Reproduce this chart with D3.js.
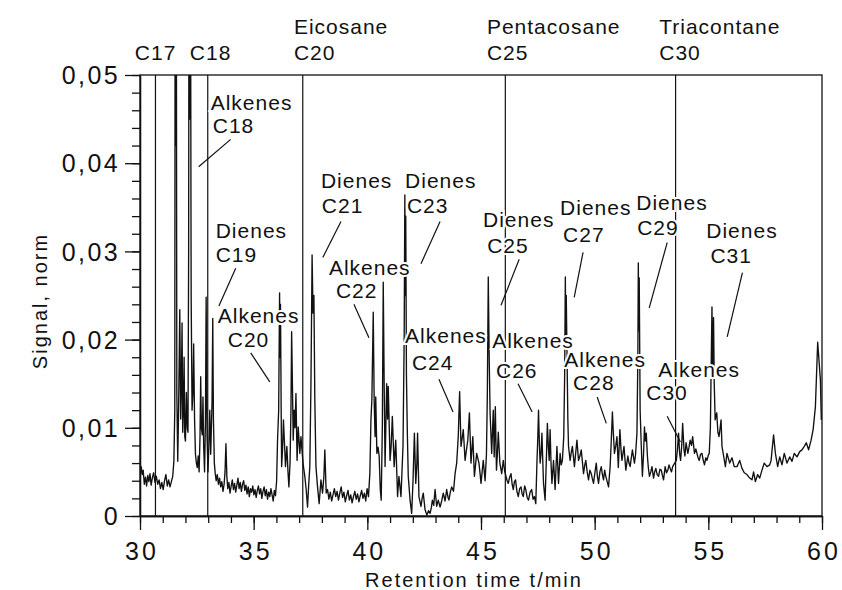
<!DOCTYPE html>
<html>
<head>
<meta charset="utf-8">
<script src="https://cdnjs.cloudflare.com/ajax/libs/d3/7.8.5/d3.min.js"></script>
<style>
	body { margin: 0; background: #fff; }
	svg { display: block; }
	text { font-family: "Liberation Sans", Arial, Helvetica, sans-serif; fill: #111; }
</style>
</head>
<body>
<div id="chart"></div>
<script>
// chromatogram trace, [retention time (min), normalised signal]
var trace = [
	[30.00, .0043], [30.05, .0056], [30.10, .0047], [30.14, .0052], [30.19, .0036], [30.24, .0044],
	[30.29, .0034], [30.34, .0046], [30.39, .0039], [30.44, .0048], [30.49, .0035], [30.55, .0044],
	[30.60, .0049], [30.66, .0038], [30.72, .0045], [30.78, .0036], [30.84, .0041], [30.90, .0031],
	[30.96, .0038], [31.02, .0030], [31.08, .0040], [31.14, .0047], [31.20, .0034], [31.26, .0041],
	[31.32, .0033], [31.38, .0039], [31.44, .0045], [31.49, .0062], [31.53, .0120], [31.55, .0800],
	[31.57, .0420], [31.59, .0800], [31.62, .0140], [31.66, .0062], [31.70, .0125], [31.75, .0234],
	[31.79, .0110], [31.82, .0150], [31.85, .0219], [31.88, .0095], [31.91, .0120], [31.94, .0180],
	[31.97, .0090], [32.00, .0085], [32.04, .0140], [32.08, .0100], [32.11, .0095], [32.14, .0300],
	[32.16, .0800], [32.19, .0450], [32.21, .0800], [32.25, .0250], [32.29, .0120], [32.33, .0140],
	[32.36, .0195], [32.40, .0110], [32.44, .0070], [32.48, .0060], [32.52, .0055], [32.56, .0068],
	[32.60, .0050], [32.64, .0090], [32.67, .0158], [32.70, .0100], [32.74, .0092], [32.77, .0135],
	[32.80, .0080], [32.84, .0050], [32.88, .0110], [32.91, .0248], [32.95, .0090], [32.99, .0050],
	[33.03, .0080], [33.07, .0120], [33.11, .0070], [33.17, .0130], [33.20, .0224], [33.23, .0110],
	[33.27, .0060], [33.31, .0048], [33.35, .0040], [33.40, .0047], [33.45, .0036], [33.50, .0043],
	[33.55, .0033], [33.60, .0039], [33.65, .0028], [33.70, .0036], [33.74, .0050], [33.78, .0082],
	[33.82, .0045], [33.86, .0031], [33.91, .0038], [33.96, .0026], [34.01, .0034], [34.06, .0041],
	[34.11, .0030], [34.16, .0037], [34.21, .0027], [34.26, .0035], [34.31, .0043], [34.36, .0031],
	[34.41, .0038], [34.46, .0028], [34.51, .0036], [34.56, .0040], [34.61, .0029], [34.66, .0035],
	[34.71, .0025], [34.76, .0033], [34.81, .0022], [34.86, .0031], [34.91, .0027], [34.96, .0034],
	[35.01, .0024], [35.06, .0030], [35.11, .0021], [35.16, .0029], [35.21, .0034], [35.26, .0025],
	[35.31, .0031], [35.36, .0020], [35.41, .0028], [35.46, .0033], [35.51, .0023], [35.56, .0030],
	[35.61, .0019], [35.66, .0027], [35.71, .0022], [35.76, .0031], [35.81, .0024], [35.86, .0017],
	[35.91, .0029], [35.96, .0023], [36.01, .0040], [36.05, .0086], [36.10, .0120], [36.14, .0253],
	[36.16, .0180], [36.18, .0240], [36.21, .0120], [36.23, .0056], [36.27, .0075], [36.31, .0109],
	[36.36, .0080], [36.40, .0056], [36.46, .0079], [36.51, .0050], [36.55, .0033], [36.60, .0060],
	[36.64, .0120], [36.67, .0209], [36.71, .0140], [36.74, .0086], [36.78, .0120], [36.82, .0100],
	[36.86, .0139], [36.91, .0063], [36.96, .0101], [37.03, .0071], [37.08, .0090], [37.11, .0079],
	[37.18, .0058], [37.25, .0045], [37.31, .0030], [37.37, .0010], [37.42, .0035], [37.47, .0056],
	[37.52, .0150], [37.57, .0296], [37.61, .0230], [37.65, .0250], [37.69, .0132], [37.74, .0056],
	[37.81, .0033], [37.88, .0014], [37.96, .0041], [38.03, .0026], [38.09, .0045], [38.13, .0075],
	[38.19, .0026], [38.25, .0030], [38.31, .0019], [38.37, .0027], [38.43, .0017], [38.49, .0024],
	[38.55, .0031], [38.61, .0022], [38.67, .0028], [38.73, .0018], [38.79, .0026], [38.85, .0033],
	[38.91, .0021], [38.97, .0027], [39.03, .0016], [39.09, .0023], [39.15, .0029], [39.21, .0018],
	[39.27, .0024], [39.33, .0015], [39.39, .0022], [39.45, .0028], [39.51, .0019], [39.57, .0025],
	[39.63, .0016], [39.69, .0023], [39.75, .0029], [39.81, .0020], [39.87, .0026], [39.93, .0017],
	[39.99, .0031], [40.05, .0022], [40.11, .0048], [40.16, .0110], [40.20, .0132], [40.26, .0231],
	[40.30, .0132], [40.34, .0090], [40.37, .0135], [40.42, .0071], [40.47, .0078], [40.52, .0068],
	[40.57, .0030], [40.61, .0018], [40.66, .0100], [40.70, .0265], [40.74, .0150], [40.78, .0056],
	[40.85, .0150], [40.89, .0110], [40.92, .0147], [41.00, .0063], [41.05, .0080], [41.10, .0113],
	[41.18, .0056], [41.25, .0086], [41.33, .0022], [41.39, .0045], [41.48, .0022], [41.57, .0080],
	[41.62, .0200], [41.65, .0364], [41.67, .0250], [41.69, .0340], [41.72, .0160], [41.76, .0094],
	[41.80, .0045], [41.88, .0018], [41.95, .0003], [42.01, .0040], [42.07, .0094], [42.13, .0037],
	[42.18, .0060], [42.21, .0094], [42.27, .0022], [42.36, .0011], [42.41, .0020], [42.46, .0026],
	[42.54, .0007], [42.62, .0001], [42.69, .0006], [42.76, .0003], [42.82, .0010], [42.86, .0018],
	[42.92, .0012], [42.98, .0030], [43.05, .0011], [43.12, .0018], [43.20, .0010], [43.27, .0017],
	[43.34, .0026], [43.42, .0017], [43.49, .0030], [43.55, .0021], [43.59, .0018], [43.65, .0027],
	[43.71, .0033], [43.79, .0028], [43.86, .0048], [43.93, .0060], [44.00, .0090], [44.06, .0141],
	[44.12, .0079], [44.17, .0088], [44.22, .0098], [44.30, .0063], [44.36, .0075], [44.42, .0086],
	[44.49, .0117], [44.56, .0060], [44.64, .0090], [44.71, .0045], [44.76, .0058], [44.81, .0071],
	[44.91, .0060], [44.96, .0048], [45.00, .0037], [45.05, .0050], [45.10, .0063], [45.18, .0040],
	[45.24, .0070], [45.28, .0140], [45.32, .0271], [45.36, .0180], [45.40, .0117], [45.47, .0071],
	[45.54, .0120], [45.58, .0067], [45.63, .0124], [45.68, .0052], [45.72, .0070], [45.76, .0095],
	[45.83, .0060], [45.91, .0048], [45.98, .0063], [46.04, .0051], [46.10, .0045], [46.15, .0040],
	[46.20, .0037], [46.26, .0044], [46.32, .0048], [46.37, .0036], [46.42, .0030], [46.47, .0039],
	[46.52, .0041], [46.58, .0028], [46.64, .0022], [46.70, .0031], [46.76, .0033], [46.81, .0025],
	[46.86, .0022], [46.92, .0034], [46.97, .0030], [47.03, .0021], [47.09, .0018], [47.16, .0027],
	[47.23, .0030], [47.29, .0019], [47.35, .0022], [47.41, .0014], [47.46, .0060], [47.50, .0090],
	[47.53, .0120], [47.57, .0080], [47.60, .0060], [47.64, .0070], [47.68, .0094], [47.72, .0060],
	[47.75, .0037], [47.82, .0018], [47.87, .0060], [47.92, .0105], [47.96, .0080], [48.00, .0063],
	[48.04, .0098], [48.08, .0060], [48.12, .0037], [48.19, .0063], [48.26, .0030], [48.30, .0055],
	[48.34, .0079], [48.41, .0037], [48.48, .0071], [48.53, .0058], [48.58, .0063], [48.64, .0090],
	[48.68, .0160], [48.71, .0271], [48.73, .0200], [48.75, .0250], [48.78, .0190], [48.82, .0110],
	[48.85, .0079], [48.92, .0063], [48.97, .0072], [49.02, .0079], [49.11, .0056], [49.16, .0070],
	[49.22, .0086], [49.29, .0063], [49.35, .0068], [49.41, .0075], [49.51, .0048], [49.56, .0057],
	[49.61, .0063], [49.67, .0050], [49.73, .0041], [49.79, .0052], [49.85, .0048], [49.90, .0042],
	[49.95, .0037], [50.01, .0049], [50.07, .0060], [50.12, .0045], [50.17, .0037], [50.23, .0050],
	[50.29, .0056], [50.34, .0047], [50.39, .0041], [50.44, .0052], [50.49, .0045], [50.55, .0039],
	[50.61, .0033], [50.68, .0056], [50.73, .0085], [50.78, .0118], [50.82, .0095], [50.87, .0071],
	[50.93, .0080], [50.98, .0090], [51.04, .0055], [51.11, .0098], [51.16, .0075], [51.20, .0063],
	[51.29, .0079], [51.37, .0052], [51.46, .0068], [51.51, .0060], [51.56, .0056], [51.66, .0075],
	[51.75, .0060], [51.80, .0070], [51.86, .0094], [51.90, .0180], [51.92, .0287], [51.94, .0210],
	[51.96, .0270], [52.00, .0120], [52.05, .0080], [52.10, .0045], [52.15, .0070], [52.19, .0101],
	[52.23, .0085], [52.27, .0094], [52.32, .0068], [52.36, .0055], [52.41, .0045], [52.47, .0050],
	[52.52, .0056], [52.59, .0043], [52.64, .0050], [52.69, .0054], [52.75, .0047], [52.81, .0045],
	[52.87, .0053], [52.93, .0052], [52.98, .0046], [53.03, .0041], [53.10, .0056], [53.16, .0049],
	[53.22, .0052], [53.27, .0058], [53.32, .0054], [53.38, .0050], [53.43, .0056], [53.52, .0060],
	[53.59, .0063], [53.64, .0075], [53.69, .0094], [53.74, .0070], [53.78, .0063], [53.83, .0080],
	[53.87, .0105], [53.93, .0075], [53.97, .0068], [54.02, .0083], [54.10, .0071], [54.15, .0078],
	[54.20, .0086], [54.26, .0080], [54.31, .0090], [54.39, .0071], [54.45, .0076], [54.50, .0071],
	[54.55, .0066], [54.60, .0063], [54.66, .0070], [54.72, .0071], [54.77, .0064], [54.83, .0058],
	[54.89, .0066], [54.94, .0063], [55.00, .0069], [55.04, .0071], [55.09, .0100], [55.12, .0160],
	[55.16, .0237], [55.19, .0160], [55.23, .0225], [55.26, .0150], [55.30, .0109], [55.37, .0117],
	[55.42, .0095], [55.47, .0090], [55.52, .0100], [55.56, .0109], [55.60, .0079], [55.66, .0070],
	[55.75, .0056], [55.82, .0071], [55.94, .0060], [56.04, .0066], [56.14, .0056], [56.26, .0056],
	[56.38, .0063], [56.48, .0054], [56.58, .0049], [56.70, .0047], [56.82, .0043], [56.92, .0041],
	[56.99, .0050], [57.07, .0039], [57.17, .0047], [57.26, .0043], [57.36, .0052], [57.46, .0060],
	[57.58, .0056], [57.70, .0058], [57.76, .0063], [57.87, .0092], [57.95, .0071], [58.05, .0056],
	[58.14, .0067], [58.24, .0058], [58.34, .0071], [58.46, .0060], [58.58, .0067], [58.68, .0062],
	[58.78, .0071], [58.90, .0067], [59.02, .0073], [59.12, .0075], [59.22, .0079], [59.31, .0083],
	[59.41, .0075], [59.52, .0086], [59.61, .0098], [59.71, .0124], [59.81, .0197], [59.88, .0172],
	[59.93, .0154], [59.97, .0109]
];

// n-alkane reference markers
var refNames = ["C17", "C18", "C20", "C25", "C30"];
var refTimes = [30.68, 32.98, 37.16, 46.07, 53.56];

// labels above the plot: [text, retention time of text start, row]
var topLabels = [
	["C17", 29.77, 1], ["C18", 32.19, 1],
	["Eicosane", 36.77, 0], ["C20", 36.77, 1],
	["Pentacosane", 45.26, 0], ["C25", 45.26, 1],
	["Triacontane", 52.84, 0], ["C30", 52.84, 1]
];

// peak annotations: two text lines, their anchors and a pointer, all in data units
var peakLabels = [
	{ lines: ["Alkenes", "C18"], a: [33.11, .0460], b: [33.20, .0434], p: [33.99, .0427, 32.58, .0396] },
	{ lines: ["Dienes", "C19"], a: [33.33, .0315], b: [33.33, .0288], p: [34.21, .0281, 33.47, .0238] },
	{ lines: ["Alkenes", "C20"], a: [33.42, .0219], b: [33.86, .0192], p: [34.87, .0185, 35.71, .0152] },
	{ lines: ["Dienes", "C21"], a: [37.96, .0372], b: [38.00, .0344], p: [38.84, .0334, 38.04, .0293] },
	{ lines: ["Alkenes", "C22"], a: [38.31, .0273], b: [38.62, .0247], p: [39.41, .0240, 40.07, .0202] },
	{ lines: ["Dienes", "C23"], a: [41.66, .0372], b: [41.74, .0344], p: [43.20, .0334, 42.36, .0286] },
	{ lines: ["Alkenes", "C24"], a: [41.66, .0196], b: [41.96, .0166], p: [43.15, .0155, 43.77, .0118] },
	{ lines: ["Dienes", "C25"], a: [45.09, .0328], b: [45.27, .0298], p: [46.68, .0291, 45.88, .0239] },
	{ lines: ["Alkenes", "C26"], a: [45.49, .0190], b: [45.66, .0156], p: [46.63, .0150, 47.25, .0118] },
	{ lines: ["Dienes", "C27"], a: [48.48, .0341], b: [48.61, .0311], p: [49.49, .0299, 49.10, .0248] },
	{ lines: ["Alkenes", "C28"], a: [48.66, .0169], b: [49.05, .0143], p: [50.11, .0135, 50.51, .0105] },
	{ lines: ["Dienes", "C29"], a: [51.83, .0347], b: [51.87, .0319], p: [53.19, .0310, 52.40, .0236] },
	{ lines: ["Alkenes", "C30"], a: [52.80, .0158], b: [52.27, .0132], p: [53.19, .0113, 53.77, .0084] },
	{ lines: ["Dienes", "C31"], a: [54.91, .0315], b: [55.09, .0287], p: [56.50, .0276, 55.83, .0203] }
];

var xTicks = [30, 35, 40, 45, 50, 55, 60];
var yTicks = [0, 0.01, 0.02, 0.03, 0.04, 0.05];
var yTickLabels = ["0", "0,01", "0,02", "0,03", "0,04", "0,05"];

var margin = { top: 75, right: 20, bottom: 74, left: 140 },
	width = 842 - margin.left - margin.right,
	height = 590 - margin.top - margin.bottom;

var x = d3.scaleLinear().domain([30, 60]).range([0, width]);
var y = d3.scaleLinear().domain([0, 0.05]).range([height, 0]);

var svg = d3.select("#chart").append("svg")
	.attr("width", 842)
	.attr("height", 590)
	.append("g")
	.attr("transform", "translate(" + margin.left + "," + margin.top + ")");

svg.append("clipPath")
	.attr("id", "plot-clip")
	.append("rect")
	.attr("width", width)
	.attr("height", height);

// frame
svg.append("rect")
	.attr("width", width)
	.attr("height", height)
	.attr("fill", "none")
	.attr("stroke", "#111")
	.attr("stroke-width", 1.3);

// minor ticks
var xMinor = d3.axisBottom(x).tickValues(x.ticks(30)).tickSizeInner(7).tickSizeOuter(0).tickFormat("");
var yMinor = d3.axisLeft(y).tickValues(y.ticks(25)).tickSizeInner(8).tickSizeOuter(0).tickFormat("");

svg.append("g")
	.attr("transform", "translate(0," + height + ")")
	.call(xMinor);
svg.append("g").call(yMinor);

var xAxis = d3.axisBottom(x).tickValues(xTicks).tickSizeInner(14).tickSizeOuter(0);
var yAxis = d3.axisLeft(y).tickValues(yTicks).tickSizeInner(15).tickSizeOuter(0)
	.tickFormat(function(d, i) {
		return yTickLabels[i];
	});

var gx = svg.append("g")
	.attr("transform", "translate(0," + height + ")")
	.call(xAxis);
gx.selectAll("text")
	.attr("y", 44)
	.attr("dy", null)
	.attr("dx", "1.5")
	.style("font-size", "25px")
	.style("letter-spacing", "3px");

var gy = svg.append("g").call(yAxis);
gy.selectAll("text")
	.attr("x", -20)
	.attr("dy", "0.35em")
	.style("font-size", "25px")
	.style("letter-spacing", "2.4px");

svg.selectAll(".domain, .tick line")
	.attr("stroke", "#111")
	.attr("stroke-width", 1.3);

// reference lines for the n-alkanes
svg.selectAll(".ref")
	.data(refTimes)
	.enter().append("line")
	.attr("class", "ref")
	.attr("x1", function(d) { return x(d); })
	.attr("x2", function(d) { return x(d); })
	.attr("y1", y(0))
	.attr("y2", y(0.05))
	.attr("stroke", "#111")
	.attr("stroke-width", 1.2);

// signal
var line = d3.line()
	.x(function(d) { return x(d[0]); })
	.y(function(d) { return y(d[1]); });

svg.append("path")
	.datum(trace)
	.attr("clip-path", "url(#plot-clip)")
	.attr("fill", "none")
	.attr("stroke", "#111")
	.attr("stroke-width", 1.35)
	.attr("stroke-linejoin", "round")
	.attr("d", line);

// top labels
svg.selectAll(".top-label")
	.data(topLabels)
	.enter().append("text")
	.attr("class", "top-label")
	.attr("x", function(d) { return x(d[1]); })
	.attr("y", function(d) { return d[2] === 0 ? -41 : -15; })
	.style("font-size", "21px")
	.style("letter-spacing", "1px")
	.text(function(d) { return d[0]; });

// peak annotations
var ann = svg.selectAll(".peak-label")
	.data(peakLabels)
	.enter().append("g")
	.attr("class", "peak-label");

ann.append("line")
	.attr("x1", function(d) { return x(d.p[0]); })
	.attr("y1", function(d) { return y(d.p[1]); })
	.attr("x2", function(d) { return x(d.p[2]); })
	.attr("y2", function(d) { return y(d.p[3]); })
	.attr("stroke", "#111")
	.attr("stroke-width", 1.2);

[0, 1].forEach(function(k) {
	ann.append("text")
		.attr("x", function(d) { return x(k === 0 ? d.a[0] : d.b[0]); })
		.attr("y", function(d) { return y(k === 0 ? d.a[1] : d.b[1]); })
		.style("font-size", "21px")
		.style("letter-spacing", "1px")
		.attr("stroke", "#fff")
		.attr("stroke-width", 4)
		.attr("paint-order", "stroke")
		.text(function(d) { return d.lines[k]; });
});

// axis titles
svg.append("text")
	.attr("transform", "rotate(-90)")
	.attr("x", -(301 - margin.top))
	.attr("y", 47 - margin.left)
	.attr("text-anchor", "middle")
	.style("font-size", "20px")
	.style("letter-spacing", "2px")
	.text("Signal, norm");

svg.append("text")
	.attr("x", 474 - margin.left)
	.attr("y", 587 - margin.top)
	.attr("text-anchor", "middle")
	.style("font-size", "20px")
	.style("letter-spacing", "2px")
	.text("Retention time t/min");
</script>
</body>
</html>
